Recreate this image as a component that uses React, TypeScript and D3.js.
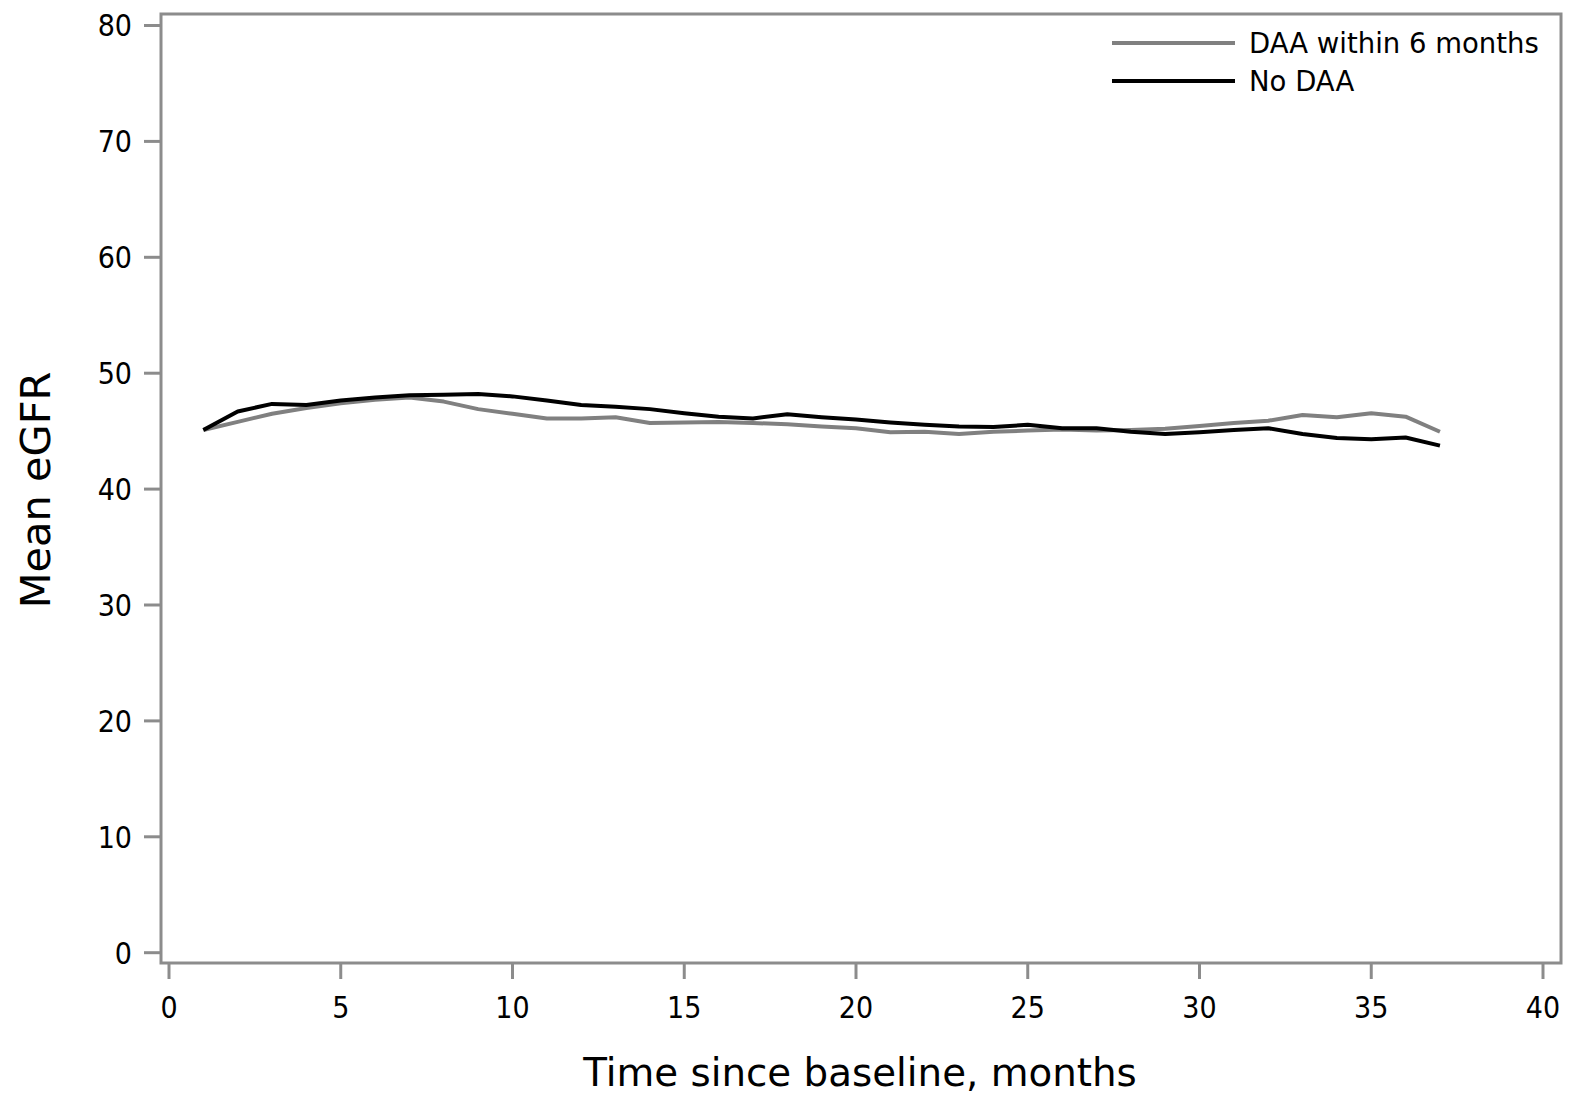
import React, { useRef, useEffect } from "react";
import * as d3 from "d3";

const months = d3.range(1, 38);
const daaWithin6 = [
  45.1, 45.8, 46.5, 47.0, 47.4, 47.7, 47.9, 47.55, 46.9, 46.5, 46.1, 46.1, 46.2,
  45.7, 45.75, 45.8, 45.7, 45.6, 45.4, 45.25, 44.9, 44.95, 44.75, 44.95, 45.05,
  45.15, 45.05, 45.1, 45.2, 45.45, 45.7, 45.9, 46.4, 46.2, 46.55, 46.25, 44.95,
];
const noDaa = [
  45.1, 46.7, 47.35, 47.25, 47.65, 47.9, 48.1, 48.15, 48.2, 48.0, 47.65, 47.25,
  47.1, 46.9, 46.55, 46.25, 46.1, 46.45, 46.2, 46.0, 45.75, 45.55, 45.4, 45.35,
  45.55, 45.25, 45.25, 44.95, 44.75, 44.9, 45.1, 45.25, 44.75, 44.4, 44.3, 44.45,
  43.75,
];
const xTicks = [0, 5, 10, 15, 20, 25, 30, 35, 40];
const yTicks = [0, 10, 20, 30, 40, 50, 60, 70, 80];
const seriesNames = ["DAA within 6 months", "No DAA"];
const seriesColors = ["#808080", "#000000"];

export default function App() {
  const ref = useRef<SVGSVGElement>(null);

  useEffect(() => {
    const width = 1570, height = 1094;
    const frame = { left: 161, right: 1561, top: 14, bottom: 963 };
    const x = d3.scaleLinear().domain([0, 40]).range([169, 1543]);
    const y = d3.scaleLinear().domain([0, 80]).range([952.7, 25.5]);
    const font = "'DejaVu Sans', sans-serif";
    const tickFont = "'DejaVu Sans Condensed', 'DejaVu Sans', sans-serif";
    const axisColor = "#8c8c8c";

    const svg = d3.select(ref.current);
    svg.selectAll("*").remove();
    svg.attr("width", width).attr("height", height);

    svg.append("rect")
      .attr("width", width).attr("height", height).attr("fill", "#fff");

    // frame
    svg.append("rect")
      .attr("x", frame.left).attr("y", frame.top)
      .attr("width", frame.right - frame.left)
      .attr("height", frame.bottom - frame.top)
      .attr("fill", "none")
      .attr("stroke", axisColor)
      .attr("stroke-width", 3);

    // y axis ticks
    const yg = svg.append("g");
    yg.selectAll("line").data(yTicks).enter().append("line")
      .attr("x1", 144).attr("x2", frame.left)
      .attr("y1", d => y(d)).attr("y2", d => y(d))
      .attr("stroke", axisColor).attr("stroke-width", 3);
    yg.selectAll("text").data(yTicks).enter().append("text")
      .attr("x", 132).attr("y", d => y(d))
      .attr("dy", "0.36em")
      .attr("text-anchor", "end")
      .attr("font-family", tickFont).attr("font-size", 30)
      .attr("fill", "#000")
      .text(d => d);

    // x axis ticks
    const xg = svg.append("g");
    xg.selectAll("line").data(xTicks).enter().append("line")
      .attr("x1", d => x(d)).attr("x2", d => x(d))
      .attr("y1", frame.bottom).attr("y2", 979)
      .attr("stroke", axisColor).attr("stroke-width", 3);
    xg.selectAll("text").data(xTicks).enter().append("text")
      .attr("x", d => x(d)).attr("y", 1018)
      .attr("text-anchor", "middle")
      .attr("font-family", tickFont).attr("font-size", 30)
      .attr("fill", "#000")
      .text(d => d);

    // axis titles
    svg.append("text")
      .attr("x", 860).attr("y", 1086)
      .attr("text-anchor", "middle")
      .attr("font-family", font).attr("font-size", 38.8)
      .text("Time since baseline, months");
    svg.append("text")
      .attr("transform", "translate(50,490) rotate(-90)")
      .attr("text-anchor", "middle")
      .attr("font-family", font).attr("font-size", 41.5)
      .text("Mean eGFR");

    // lines
    const line = d3.line<number>()
      .x((_, i) => x(months[i]))
      .y(d => y(d));
    [daaWithin6, noDaa].forEach((vals, i) => {
      svg.append("path")
        .attr("d", line(vals))
        .attr("fill", "none")
        .attr("stroke", seriesColors[i])
        .attr("stroke-width", 4)
        .attr("stroke-linejoin", "round");
    });

    // legend
    const lg = svg.append("g");
    seriesNames.forEach((name, i) => {
      const ly = 43 + i * 38;
      lg.append("line")
        .attr("x1", 1112).attr("x2", 1235)
        .attr("y1", ly).attr("y2", ly)
        .attr("stroke", seriesColors[i]).attr("stroke-width", 4);
      lg.append("text")
        .attr("x", 1249).attr("y", ly)
        .attr("dy", "0.36em")
        .attr("font-family", font).attr("font-size", 27.5)
        .text(name);
    });
  }, []);

  return (
    <svg ref={ref} style={{ position: "absolute", left: 0, top: 0 }}></svg>
  );
}
